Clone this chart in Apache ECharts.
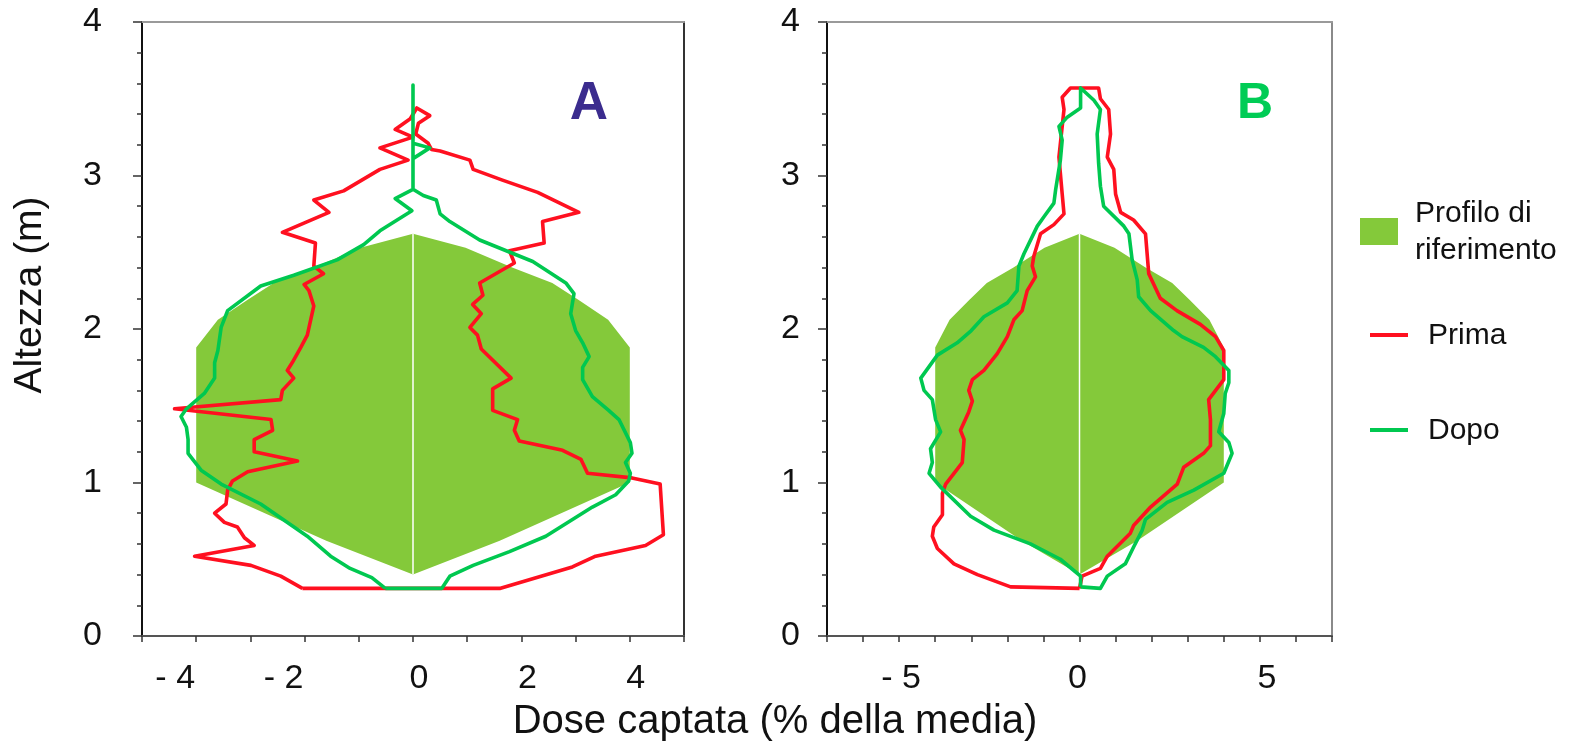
<!DOCTYPE html>
<html>
<head>
<meta charset="utf-8">
<script src="https://cdn.jsdelivr.net/npm/echarts@6/dist/echarts.min.js"></script>
<style>
html,body{margin:0;padding:0;background:#fff;}
#chart{width:1571px;height:743px;}
</style>
</head>
<body>
<div id="chart"></div>
<script>
// ---- Data ----
// Reference profile (half-width vs height), symmetric around 0
const profileH = [0.40, 0.62, 1.00, 1.88, 2.06, 2.19, 2.30, 2.40, 2.53, 2.62];
const profileW = [0.00, 1.60, 4.00, 4.00, 3.60, 3.05, 2.57, 1.83, 0.97, 0.00];

// Panel A – "Prima" (before) closed profile [dose %, height m]
const primaA = [[-2.04,0.31],[1.60,0.31],[2.94,0.45],[3.37,0.52],[4.29,0.59],[4.62,0.66],[4.56,0.99],[4.04,1.03],[3.22,1.06],[3.10,1.15],[2.76,1.21],[1.96,1.27],[1.87,1.34],[1.93,1.41],[1.47,1.47],[1.47,1.61],[1.81,1.68],[1.26,1.87],[1.19,1.96],[1.05,2.01],[1.26,2.10],[1.10,2.16],[1.29,2.22],[1.23,2.30],[1.87,2.43],[1.78,2.51],[2.42,2.56],[2.39,2.70],[3.06,2.76],[2.30,2.89],[1.65,2.97],[1.11,3.04],[1.05,3.10],[0.50,3.16],[0.34,3.17],[0.28,3.21],[0.05,3.27],[0.10,3.34],[0.31,3.39],[0.07,3.44],[-0.05,3.37],[-0.33,3.30],[0.00,3.25],[-0.61,3.18],[-0.09,3.10],[-0.61,3.04],[-1.28,2.90],[-1.83,2.84],[-1.55,2.76],[-2.41,2.63],[-1.80,2.56],[-1.83,2.41],[-1.65,2.36],[-2.01,2.29],[-1.92,2.25],[-1.83,2.15],[-1.95,1.96],[-2.07,1.88],[-2.23,1.78],[-2.32,1.73],[-2.20,1.68],[-2.41,1.60],[-2.44,1.54],[-4.40,1.48],[-2.62,1.41],[-2.59,1.34],[-2.93,1.28],[-2.93,1.20],[-2.13,1.14],[-3.05,1.07],[-3.33,1.01],[-3.42,0.95],[-3.45,0.86],[-3.66,0.80],[-3.48,0.74],[-3.24,0.71],[-3.11,0.64],[-2.93,0.59],[-4.03,0.52],[-2.99,0.46],[-2.44,0.39],[-2.04,0.31]];

// Panel A – "Dopo" (after)
const dopoA = [[-0.51,0.31],[0.53,0.31],[0.68,0.39],[1.11,0.46],[1.78,0.55],[2.45,0.65],[3.31,0.84],[3.74,0.92],[3.98,1.01],[4.01,1.06],[3.92,1.13],[4.04,1.19],[4.01,1.26],[3.80,1.41],[3.61,1.47],[3.31,1.56],[3.13,1.67],[3.13,1.75],[3.25,1.82],[3.13,1.91],[3.00,1.99],[2.91,2.10],[2.97,2.23],[2.82,2.30],[2.21,2.44],[1.72,2.51],[1.23,2.58],[0.68,2.70],[0.50,2.75],[0.43,2.84],[0.19,2.87],[0.00,2.91],[0.00,3.11],[0.31,3.18],[0.00,3.21],[0.00,3.59],[0.00,2.91],[-0.33,2.85],[-0.02,2.77],[-0.61,2.64],[-0.91,2.55],[-1.40,2.45],[-2.20,2.35],[-2.81,2.28],[-3.42,2.12],[-3.54,2.01],[-3.60,1.86],[-3.66,1.78],[-3.66,1.68],[-3.85,1.58],[-4.18,1.48],[-4.28,1.43],[-4.18,1.36],[-4.15,1.28],[-4.15,1.19],[-3.91,1.08],[-3.54,0.99],[-2.81,0.86],[-1.95,0.65],[-1.52,0.52],[-1.16,0.44],[-0.76,0.38],[-0.51,0.31]];

// Panel B – "Prima"
const primaB = [[0.00,0.31],[0.07,0.39],[0.58,0.44],[0.77,0.52],[1.41,0.67],[1.50,0.72],[1.97,0.84],[2.71,0.99],[2.89,1.10],[3.44,1.19],[3.63,1.24],[3.63,1.41],[3.58,1.54],[4.00,1.67],[4.00,1.86],[3.77,1.95],[3.35,2.03],[2.70,2.12],[2.24,2.20],[1.92,2.36],[1.83,2.62],[1.50,2.71],[1.14,2.76],[1.00,2.88],[0.95,3.04],[0.77,3.12],[0.86,3.27],[0.81,3.43],[0.58,3.50],[0.53,3.57],[-0.25,3.57],[-0.48,3.51],[-0.43,3.43],[-0.57,3.12],[-0.48,2.88],[-0.43,2.75],[-0.71,2.68],[-1.08,2.62],[-1.27,2.47],[-1.31,2.41],[-1.22,2.34],[-1.45,2.25],[-1.59,2.12],[-1.82,2.06],[-2.00,1.95],[-2.28,1.84],[-2.65,1.73],[-2.97,1.67],[-3.07,1.60],[-2.97,1.53],[-3.07,1.46],[-3.30,1.34],[-3.20,1.28],[-3.25,1.13],[-3.71,0.99],[-3.80,0.93],[-3.80,0.79],[-4.04,0.71],[-4.08,0.65],[-3.94,0.57],[-3.48,0.47],[-2.83,0.40],[-1.91,0.32],[-1.86,0.31],[0.00,0.31]];

// Panel B – "Dopo"
const dopoB = [[0.03,0.32],[0.58,0.31],[0.77,0.39],[1.27,0.47],[1.50,0.58],[1.74,0.69],[1.83,0.76],[2.43,0.87],[3.17,0.95],[4.00,1.06],[4.23,1.19],[4.14,1.26],[3.86,1.33],[4.00,1.45],[4.04,1.58],[4.14,1.65],[4.14,1.73],[3.77,1.82],[3.44,1.88],[2.84,1.95],[2.61,1.99],[1.97,2.12],[1.64,2.21],[1.60,2.32],[1.46,2.45],[1.37,2.62],[1.23,2.67],[0.67,2.80],[0.58,2.93],[0.53,3.08],[0.49,3.27],[0.58,3.43],[0.40,3.49],[0.03,3.57],[0.03,3.44],[-0.34,3.38],[-0.57,3.32],[-0.48,3.23],[-0.53,3.10],[-0.66,2.91],[-0.71,2.82],[-0.99,2.73],[-1.17,2.67],[-1.54,2.49],[-1.68,2.41],[-1.73,2.25],[-2.00,2.17],[-2.65,2.08],[-3.00,1.99],[-3.39,1.91],[-3.94,1.83],[-4.40,1.68],[-4.31,1.60],[-4.08,1.54],[-3.99,1.41],[-3.85,1.33],[-4.13,1.22],[-4.08,1.13],[-4.17,1.06],[-3.85,0.97],[-3.02,0.78],[-2.37,0.69],[-1.36,0.60],[-0.53,0.50],[0.03,0.39],[0.03,0.32]];

// Tick labels
const xTicksA = [-4, -2, 0, 2, 4];
const xTicksB = [-5, 0, 5];
const yTicks = [0, 1, 2, 3, 4];

const seriesNames = ['Profilo di riferimento', 'Prima', 'Dopo'];
const panelLabels = ['A', 'B'];
const xTitle = 'Dose captata (% della media)';
const yTitle = 'Altezza (m)';

// ---- Styles ----
const FONT = '"Liberation Sans", Arial, sans-serif';
const C_FILL = '#84C93A', C_RED = '#FF1020', C_GREEN = '#00C850';

const chart = echarts.init(document.getElementById('chart'), null, {renderer: 'canvas'});

function profileRender(params, api) {
  if (params.dataIndex !== 0) return null;
  const right = profileH.map((h, i) => api.coord([profileW[i], h]));
  const left = profileH.map((h, i) => api.coord([-profileW[i], h])).reverse();
  const b = api.coord([0, profileH[0]]);
  const t = api.coord([0, profileH[profileH.length - 1]]);
  return {
    type: 'group',
    children: [
      {type: 'polygon', shape: {points: right.concat(left)}, style: {fill: C_FILL}},
      {type: 'line', shape: {x1: b[0], y1: b[1], x2: t[0], y2: t[1]}, style: {stroke: '#ffffff', lineWidth: 1.5}}
    ]
  };
}
const profileData = profileH.map((h, i) => [profileW[i], h]);

const tickLabelStyle = {fontSize: 34, fontFamily: FONT, color: '#111'};

function bottomX(gridIndex, min, max, formatter, rich) {
  return {
    gridIndex, type: 'value', position: 'bottom', min, max, interval: 1,
    axisLine: {show: true, onZero: false, lineStyle: {color: '#555', width: 2}},
    axisTick: {show: true, length: 6, lineStyle: {color: '#333', width: 1.5}},
    axisLabel: Object.assign({margin: 26, formatter, rich}, tickLabelStyle),
    splitLine: {show: false}
  };
}
function topX(gridIndex, min, max) {
  return {
    gridIndex, type: 'value', position: 'top', min, max,
    axisLine: {show: true, onZero: false, lineStyle: {color: '#9a9a9a', width: 2}},
    axisTick: {show: false}, axisLabel: {show: false}, splitLine: {show: false}
  };
}
function leftY(gridIndex, margin) {
  return {
    gridIndex, type: 'value', position: 'left', min: 0, max: 4, interval: 1,
    axisLine: {show: true, onZero: false, lineStyle: {color: '#111', width: 2}},
    axisTick: {show: true, length: 9, lineStyle: {color: '#333', width: 1.5}},
    minorTick: {show: true, splitNumber: 5, length: 5, lineStyle: {color: '#333', width: 1.5}},
    axisLabel: Object.assign({margin, formatter: v => yTicks.includes(v) ? String(v) : ''}, tickLabelStyle),
    splitLine: {show: false}, minorSplitLine: {show: false}
  };
}
function rightY(gridIndex, color) {
  return {
    gridIndex, type: 'value', position: 'right', min: 0, max: 4,
    axisLine: {show: true, onZero: false, lineStyle: {color, width: 2}},
    axisTick: {show: false}, axisLabel: {show: false}, splitLine: {show: false}
  };
}

const richA = {
  n: Object.assign({padding: [0, 42, 0, 0]}, tickLabelStyle),
  p: Object.assign({padding: [0, 0, 0, 12]}, tickLabelStyle)
};
const richB = {
  n: Object.assign({padding: [0, 0, 0, 4]}, tickLabelStyle),
  z: Object.assign({padding: [0, 4, 0, 0]}, tickLabelStyle),
  p: Object.assign({padding: [0, 0, 0, 14]}, tickLabelStyle)
};
const fmtA = v => xTicksA.includes(v) ? (v < 0 ? '{n|- ' + (-v) + '}' : '{p|' + v + '}') : '';
const fmtB = v => xTicksB.includes(v) ? (v < 0 ? '{n|- ' + (-v) + '}' : (v === 0 ? '{z|0}' : '{p|' + v + '}')) : '';

function lineSeries(name, data, color, xi, yi) {
  return {
    name, type: 'line', data, xAxisIndex: xi, yAxisIndex: yi,
    showSymbol: false, symbol: 'none', smooth: false, clip: false,
    lineStyle: {color, width: 3.6, join: 'round'}, z: 3
  };
}

const option = {
  animation: false,
  backgroundColor: '#ffffff',
  grid: [
    {left: 142, top: 22, width: 542, height: 614},
    {left: 827, top: 22, width: 505, height: 614}
  ],
  xAxis: [
    bottomX(0, -5, 5, fmtA, richA),
    topX(0, -5, 5),
    bottomX(1, -7, 7, fmtB, richB),
    topX(1, -7, 7)
  ],
  yAxis: [
    leftY(0, 40),
    rightY(0, '#333'),
    leftY(1, 27),
    rightY(1, '#8a8a8a')
  ],
  series: [
    {name: seriesNames[0], type: 'custom', xAxisIndex: 0, yAxisIndex: 0, data: profileData, renderItem: profileRender, z: 1, silent: true},
    {name: seriesNames[0], type: 'custom', xAxisIndex: 2, yAxisIndex: 2, data: profileData, renderItem: profileRender, z: 1, silent: true},
    lineSeries(seriesNames[1], primaA, C_RED, 0, 0),
    lineSeries(seriesNames[2], dopoA, C_GREEN, 0, 0),
    lineSeries(seriesNames[1], primaB, C_RED, 2, 2),
    lineSeries(seriesNames[2], dopoB, C_GREEN, 2, 2)
  ],
  graphic: [
    {type: 'text', x: 589, y: 104, style: {text: panelLabels[0], font: 'bold 53px ' + FONT, fill: '#3B2C8E', textAlign: 'center', textVerticalAlign: 'middle'}},
    {type: 'text', x: 1255, y: 104, style: {text: panelLabels[1], font: 'bold 50px ' + FONT, fill: '#00CC55', textAlign: 'center', textVerticalAlign: 'middle'}},
    {type: 'text', x: 775, y: 722, style: {text: xTitle, font: '40px ' + FONT, fill: '#111', textAlign: 'center', textVerticalAlign: 'middle'}},
    {type: 'text', x: 30, y: 295, rotation: Math.PI / 2, style: {text: yTitle, font: '39px ' + FONT, fill: '#111', textAlign: 'center', textVerticalAlign: 'middle'}},
    // legend
    {type: 'rect', shape: {x: 1360, y: 218, width: 38, height: 27}, style: {fill: C_FILL}},
    {type: 'text', x: 1415, y: 214, style: {text: 'Profilo di', font: '30px ' + FONT, fill: '#111', textAlign: 'left', textVerticalAlign: 'middle'}},
    {type: 'text', x: 1415, y: 251, style: {text: 'riferimento', font: '30px ' + FONT, fill: '#111', textAlign: 'left', textVerticalAlign: 'middle'}},
    {type: 'line', shape: {x1: 1370, y1: 335, x2: 1408, y2: 335}, style: {stroke: C_RED, lineWidth: 4}},
    {type: 'text', x: 1428, y: 336, style: {text: seriesNames[1], font: '30px ' + FONT, fill: '#111', textAlign: 'left', textVerticalAlign: 'middle'}},
    {type: 'line', shape: {x1: 1370, y1: 430, x2: 1408, y2: 430}, style: {stroke: C_GREEN, lineWidth: 4}},
    {type: 'text', x: 1428, y: 431, style: {text: seriesNames[2], font: '30px ' + FONT, fill: '#111', textAlign: 'left', textVerticalAlign: 'middle'}}
  ]
};
chart.setOption(option);
</script>
</body>
</html>
